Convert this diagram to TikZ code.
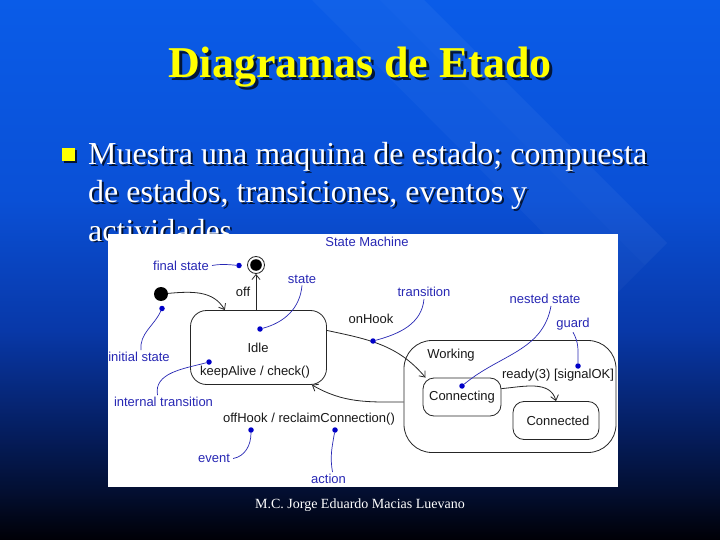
\documentclass[tikz,border=0pt]{standalone}
\usepackage{fontspec}
\usepackage{tikz}
\usetikzlibrary{arrows.meta}
\setmainfont{Liberation Serif}
\newfontfamily\diagfont{Liberation Sans}
\definecolor{bgtop}{RGB}{10,92,232}
\definecolor{bgmid}{RGB}{10,80,214}
\definecolor{bgdark}{RGB}{8,56,168}
\definecolor{bgdeep}{RGB}{5,30,96}
\definecolor{bgnavy}{RGB}{3,15,50}
\definecolor{bgbot}{RGB}{0,0,6}
\definecolor{titleyellow}{RGB}{255,255,0}
\definecolor{noteblue}{RGB}{40,40,180}
\definecolor{dotblue}{RGB}{0,0,200}
\pgfdeclareverticalshading{slidebg}{100bp}{color(0bp)=(bgbot); color(25bp)=(bgbot); color(29.6bp)=(bgnavy); color(35.2bp)=(bgdeep); color(44.4bp)=(bgdark); color(56.5bp)=(bgmid); color(75bp)=(bgtop); color(100bp)=(bgtop)}

\begin{document}
\begin{tikzpicture}[x=1pt, y=-1pt]
        \tikzstyle{titletext} = [font=\bfseries\fontsize{44}{52}\selectfont, inner sep=0]
        \tikzstyle{bodytext} = [font=\fontsize{32}{38}\selectfont, inner sep=0, anchor=base west]
        \tikzstyle{shadow} = [text=black, opacity=0.75]
        \tikzstyle{state} = [rectangle, draw=black!85, line width=0.8pt, inner sep=0]
        \tikzstyle{plain} = [font=\diagfont\fontsize{13}{15}\selectfont, text=black!90, inner sep=0]
        \tikzstyle{note} = [font=\diagfont\fontsize{13}{15}\selectfont, text=noteblue, inner sep=0]
        \tikzstyle{notedot} = [circle, fill=dotblue, inner sep=0, minimum size=5.5pt]
        \tikzstyle{noteline} = [draw=noteblue, line width=0.7pt]
        \tikzstyle{line} = [draw=black!85, line width=0.8pt, -{Straight Barb[length=5pt, width=8pt]}]

        \useasboundingbox (0,0) rectangle (720,540);
        \shade [shading=slidebg] (0,0) rectangle (720,540);
        \fill [white, opacity=0.045] (424,0) -- (667,243) -- (645,265) -- (380,0) -- cycle;
        \fill [white, opacity=0.03] (380,0) -- (645,265) -- (610,300) -- (312,0) -- cycle;

        \node [titletext, shadow] (titleshadow) at (363,70) {Diagramas de Etado};
        \node [titletext, text=titleyellow] (title) at (360,67) {Diagramas de Etado};

        \fill [black, opacity=0.75] (64,150) rectangle (77,163);
        \node [fill=titleyellow, minimum size=13pt, inner sep=0] (bullet) at (68.5,154.5) {};

        \node [bodytext, shadow] (line1s) at (90,167) {Muestra una maquina de estado; compuesta};
        \node [bodytext, text=white] (line1) at (88,165) {Muestra una maquina de estado; compuesta};
        \node [bodytext, shadow] (line2s) at (90,205) {de estados, transiciones, eventos y};
        \node [bodytext, text=white] (line2) at (88,203) {de estados, transiciones, eventos y};
        \node [bodytext, shadow] (line3s) at (90,243) {actividades};
        \node [bodytext, text=white] (line3) at (88,241) {actividades};

        \fill [white] (108,234) rectangle (618,487);

        \node [note] (machine) at (367,242) {State Machine};

        \node [circle, draw=black!85, line width=0.8pt, minimum size=17pt, inner sep=0] (fin) at (256,265) {};
        \fill [black] (fin.center) circle (5.8pt);
        \node [circle, fill=black, minimum size=14pt, inner sep=0] (ini) at (161,294) {};

        \node [state, rounded corners=16pt, minimum width=136pt, minimum height=74pt] (idle) at (258.5,347.5) {};
        \node [plain] (idlename) at (258,348) {Idle};
        \node [plain] (idleact) at (255,372) {keepAlive / check()};

        \node [state, rounded corners=28pt, minimum width=212pt, minimum height=112pt] (work) at (510,396.5) {};
        \node [plain] (workname) at (451,355) {Working};
        \node [state, rounded corners=11pt, minimum width=78pt, minimum height=38pt] (conn) at (462,397) {};
        \node [plain] (connname) at (462,397.5) {Connecting};
        \node [state, rounded corners=11pt, minimum width=86pt, minimum height=38pt] (cted) at (556,420.5) {};
        \node [plain] (ctedname) at (558,420.5) {Connected};

        \path [line] (ini) to [out=5, in=120] (idle.132);
        \path [line] (fin |- idle.north) -- (fin);
        \node [plain] (off) at (243,292) {off};
        \path [line] (idle.14) to [out=-12, in=130] (conn.152);
        \node [plain] (onhook) at (371,319) {onHook};
        \path [line] (work.183) to [out=180, in=-30] (idle.-35);
        \node [plain] (offhook) at (309,419) {offHook / reclaimConnection()};
        \path [line] (conn.12) to [out=5, in=105] (cted.north);
        \node [plain] (ready) at (558,375) {ready(3) [signalOK]};

        \node [notedot] (dfin) at (239,265.5) {};
        \node [notedot] (dini) at (162,308.5) {};
        \node [notedot] (dstate) at (260,329) {};
        \node [notedot] (dint) at (209,362) {};
        \node [notedot] (dtrans) at (373,341) {};
        \node [notedot] (dnest) at (462,386) {};
        \node [notedot] (dguard) at (578,366) {};
        \node [notedot] (devent) at (251,430) {};
        \node [notedot] (daction) at (335,430) {};

        \node [note] (lfin) at (181,265.5) {final state};
        \node [note] (lini) at (139,357) {initial state};
        \node [note] (lstate) at (302,279) {state};
        \node [note] (lint) at (163.5,402) {internal transition};
        \node [note] (ltrans) at (424,292) {transition};
        \node [note] (lnest) at (545,299) {nested state};
        \node [note] (lguard) at (573,324) {guard};
        \node [note] (levent) at (214,458.5) {event};
        \node [note] (laction) at (328.5,479) {action};

        \path [noteline] ([xshift=3pt]lfin.east) to [out=10, in=175] (dfin);
        \path [noteline] ([xshift=2pt, yshift=2pt]lini.north) to [out=95, in=-115] (dini);
        \path [noteline] ([yshift=-2pt]lstate.south) to [out=-95, in=15] (dstate);
        \path [noteline] ([xshift=-6pt, yshift=2pt]lint.north) to [out=100, in=195] (dint);
        \path [noteline] ([yshift=-2pt]ltrans.south) to [out=-95, in=15] (dtrans);
        \path [noteline] ([xshift=6pt, yshift=-2pt]lnest.south) to [out=-100, in=40] (dnest);
        \path [noteline] ([yshift=-2pt]lguard.south) to [out=-60, in=90] (dguard);
        \path [noteline] ([xshift=3pt]levent.east) to [out=10, in=-90] (devent);
        \path [noteline] ([xshift=4pt, yshift=2pt]laction.north) to [out=100, in=-100] (daction);

        \node [font=\fontsize{14}{16}\selectfont, text=white, anchor=base] (footer) at (360,508) {M.C. Jorge Eduardo Macias Luevano};
    \end{tikzpicture}
\end{document}
